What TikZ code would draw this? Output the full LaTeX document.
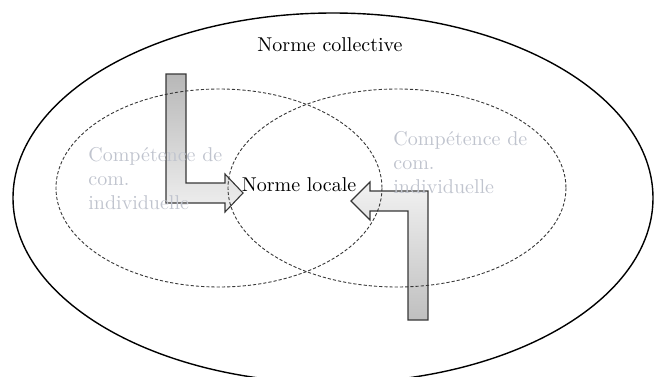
\documentclass[tikz,border=0pt]{standalone}
\usepackage{xcolor}
\usepackage{tikz}
\usetikzlibrary{calc}

\definecolor{faded}{RGB}{192,196,206}
\definecolor{edge}{RGB}{55,55,55}

\begin{document}
\begin{tikzpicture}[x=0.5pt, y=-0.5pt,
    zone/.style={draw=edge, line width=0.45pt, dash pattern=on 1.6pt off 1pt},
    bentarrow/.style={draw=edge, line width=0.55pt, line join=miter},
    faint/.style={text=faded, font=\normalsize, align=left, anchor=north west, inner sep=0pt},
    title/.style={font=\normalsize, inner sep=0pt}
]
    \useasboundingbox (0,0) rectangle (654,376);

    % Bent arrows (drawn first, the rest shows through)
    \draw[bentarrow, top color=black!28, bottom color=black!6]
        (166,74) -- (186,74) -- (186,183) -- (225,183) -- (225,174) -- (243,193)
        -- (225,212) -- (225,203) -- (166,203) -- cycle;
    \draw[bentarrow, top color=black!5, bottom color=black!25]
        (428,320) -- (408,320) -- (408,211) -- (370,211) -- (370,220) -- (351,201)
        -- (370,182) -- (370,191) -- (428,191) -- cycle;

    % Outer ellipse
    \draw[line width=0.7pt] (333,198) ellipse [x radius=320, y radius=185];

    % Individual zones
    \draw[zone] (219,188) ellipse [x radius=163, y radius=99];
    \draw[zone] (397,188) ellipse [x radius=169, y radius=99];

    % Labels
    \node[title] (collective) at (330,45) {Norme collective};
    \node[title] (locale) at (299,185) {Norme locale};
    \node[faint] (indleft) at (88,147) {Compétence de\\com.\\individuelle};
    \node[faint] (indright) at (393,131) {Compétence de\\com.\\individuelle};
\end{tikzpicture}
\end{document}
